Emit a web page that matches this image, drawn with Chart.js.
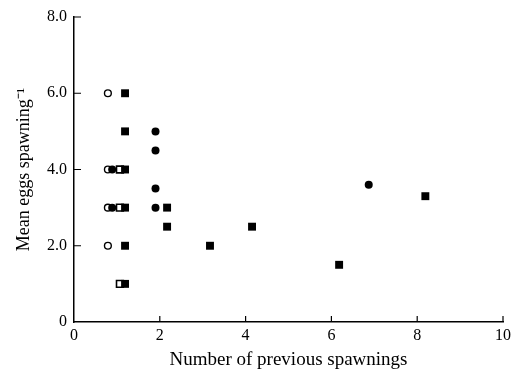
<!DOCTYPE html>
<html>
<head>
<meta charset="utf-8">
<script src="https://cdn.jsdelivr.net/npm/chart.js@4"></script>
<style>
  html, body { margin: 0; padding: 0; background: #fff; }
</style>
</head>
<body>
<canvas id="chart" width="517" height="373"></canvas>
<script>
// number of previous spawnings (x) / mean eggs per spawning (y)
const openCircleX = [0.79, 0.79, 0.79, 0.79];
const openCircleY = [6.0, 4.0, 3.0, 2.0];

const filledCircleX = [0.89, 0.89, 1.9, 1.9, 1.9, 1.9, 6.87];
const filledCircleY = [4.0, 3.0, 5.0, 4.5, 3.5, 3.0, 3.6];

const openSquareX = [1.07, 1.07, 1.07];
const openSquareY = [4.0, 3.0, 1.0];

const filledSquareX = [1.19, 1.19, 1.19, 1.19, 1.19, 1.19, 2.17, 2.17, 3.17, 4.15, 6.18, 8.19];
const filledSquareY = [6.0, 5.0, 4.0, 3.0, 2.0, 1.0, 3.0, 2.5, 2.0, 2.5, 1.5, 3.3];

const xTicks = [0, 2, 4, 6, 8, 10];
const yTicks = [0, 2, 4, 6, 8];

const serif = "'Liberation Serif', 'Times New Roman', serif";

const toPoints = (xs, ys) => xs.map((x, i) => ({ x: x, y: ys[i] }));

// tick marks pointing into the plot
const innerTicks = {
  id: "innerTicks",
  afterDraw(chart) {
    const { ctx, scales } = chart;
    const x = scales.x;
    const y = scales.y;
    ctx.save();
    ctx.strokeStyle = "#000";
    ctx.lineWidth = 1.2;
    ctx.beginPath();
    xTicks.slice(1).forEach((v) => {
      const px = x.getPixelForValue(v);
      ctx.moveTo(px, x.top);
      ctx.lineTo(px, x.top - 6);
    });
    yTicks.slice(1).forEach((v) => {
      const py = y.getPixelForValue(v);
      ctx.moveTo(y.right, py);
      ctx.lineTo(y.right + 7, py);
    });
    ctx.stroke();
    ctx.restore();
  },
};

const ctx = document.getElementById("chart").getContext("2d");

new Chart(ctx, {
  type: "scatter",
  data: {
    datasets: [
      {
        label: "filled circles",
        data: toPoints(filledCircleX, filledCircleY),
        pointStyle: "circle",
        radius: 4,
        backgroundColor: "#000",
        borderColor: "#000",
        borderWidth: 0,
      },
      {
        label: "open circles",
        data: toPoints(openCircleX, openCircleY),
        pointStyle: "circle",
        radius: 3.4,
        backgroundColor: "#fff",
        borderColor: "#000",
        borderWidth: 1.4,
      },
      {
        label: "filled squares",
        data: toPoints(filledSquareX, filledSquareY),
        pointStyle: "rect",
        radius: 5.6,
        backgroundColor: "#000",
        borderColor: "#000",
        borderWidth: 0,
      },
      {
        label: "open squares",
        data: toPoints(openSquareX, openSquareY),
        pointStyle: "rect",
        radius: 4.8,
        backgroundColor: "#fff",
        borderColor: "#000",
        borderWidth: 1.6,
      },
    ],
  },
  options: {
    responsive: false,
    animation: false,
    layout: { padding: { top: 17, right: 14, left: 0, bottom: 0 } },
    plugins: {
      legend: { display: false },
      tooltip: { enabled: false },
    },
    elements: { point: { hoverRadius: 4 } },
    scales: {
      x: {
        type: "linear",
        min: 0,
        max: 10,
        afterFit: (s) => { s.height = 51; },
        afterBuildTicks: (s) => { s.ticks = xTicks.map((v) => ({ value: v })); },
        grid: { display: false, drawTicks: false },
        border: { display: true, color: "#000", width: 1.5 },
        ticks: {
          color: "#000",
          padding: 4,
          maxRotation: 0,
          font: { family: serif, size: 16 },
          callback: (v) => String(v),
        },
        title: {
          display: true,
          text: "Number of previous spawnings",
          color: "#000",
          font: { family: serif, size: 19 },
          padding: { top: 0, bottom: 2 },
        },
      },
      y: {
        type: "linear",
        min: 0,
        max: 8,
        afterFit: (s) => { s.width = 74; },
        afterBuildTicks: (s) => { s.ticks = yTicks.map((v) => ({ value: v })); },
        grid: { display: false, drawTicks: false },
        border: { display: true, color: "#000", width: 1.5 },
        ticks: {
          color: "#000",
          padding: 7,
          font: { family: serif, size: 16 },
          callback: (v) => (v === 0 ? "0" : v.toFixed(1)),
        },
        title: {
          display: true,
          text: "Mean eggs spawning\u207B\u00B9",
          color: "#000",
          font: { family: serif, size: 18 },
          padding: { top: 13, bottom: 0 },
        },
      },
    },
  },
  plugins: [innerTicks],
});
</script>
</body>
</html>
